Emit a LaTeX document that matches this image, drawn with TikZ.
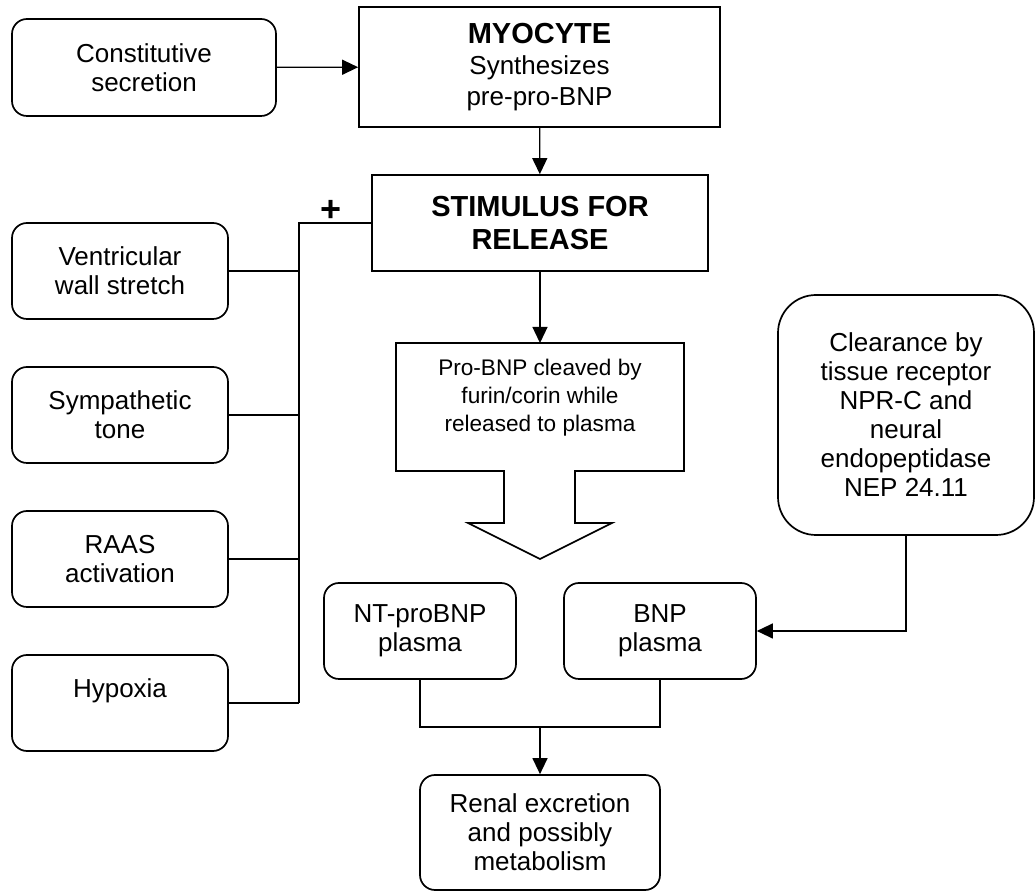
\documentclass[tikz,border=0pt]{standalone}
\usepackage{fontspec}
\setmainfont{Liberation Sans}
\usetikzlibrary{arrows.meta,positioning}
\tikzset{
  box/.style={draw, line width=0.85pt, align=center, inner sep=0pt,
    font=\fontsize{13}{14.5}\selectfont},
  rbox/.style={box, rounded corners=7.5pt},
  link/.style={line width=0.65pt},
  arr/.style={link, -{Triangle[length=8pt,width=7.5pt]}},
  bus/.style={line width=1.2pt},
}
\begin{document}
\begin{tikzpicture}[x=0.5pt,y=-0.5pt]
    \useasboundingbox (0,0) rectangle (1035,892);
    % top row
    \node[rbox, minimum width=132pt, minimum height=48.5pt] (const) at (144,67.5) {Constitutive\\secretion};
    \node[box, minimum width=180.5pt, minimum height=60pt, font=\fontsize{13}{15.5}\selectfont] (myo) at (539.5,67)
        {{\bfseries\fontsize{14.5}{15.5}\selectfont MYOCYTE}\\Synthesizes\\pre-pro-BNP};
    \node[box, minimum width=168pt, minimum height=48pt, font=\bfseries\fontsize{14.5}{16.5}\selectfont] (stim) at (540,223)
        {STIMULUS FOR\\RELEASE};
    % stimuli on the left
    \node[rbox, minimum width=108pt, minimum height=48pt] (vent) at (120,271) {Ventricular\\wall stretch};
    \node[rbox, minimum width=108pt, minimum height=48pt] (symp) at (120,415) {Sympathetic\\tone};
    \node[rbox, minimum width=108pt, minimum height=48pt] (raas) at (120,559) {RAAS\\activation};
    \node[rbox, minimum width=108pt, minimum height=48pt] (hypo) at (120,703) {Hypoxia\\~};
    \node[font=\bfseries\fontsize{18}{18}\selectfont, inner sep=0pt] (plus) at (331,211) {+};
    % cleavage block arrow
    \draw[line width=0.85pt] (396,343) -- (684,343) -- (684,471) -- (575,471) -- (575,523) -- (612,523)
        -- (540,559) -- (468,523) -- (504,523) -- (504,471) -- (396,471) -- cycle;
    \coordinate (cleavetop) at (540,343);
    \node[align=center, font=\fontsize{11.3}{14}\selectfont] (cleave) at (540,398)
        {Pro-BNP cleaved by\\furin/corin while\\released to plasma};
    % plasma and clearance
    \node[rbox, minimum width=96pt, minimum height=48pt] (nt) at (420,631) {NT-proBNP\\plasma};
    \node[rbox, minimum width=96pt, minimum height=48pt] (bnp) at (660,631) {BNP\\plasma};
    \node[box, rounded corners=19pt, minimum width=128pt, minimum height=120pt] (clear) at (906,415)
        {Clearance by\\tissue receptor\\NPR-C and\\neural\\endopeptidase\\NEP 24.11};
    \node[rbox, minimum width=120pt, minimum height=57.5pt] (renal) at (540,832.5)
        {Renal excretion\\and possibly\\metabolism};
    % connectors
    \draw[arr] (const) -- (myo);
    \draw[arr] (myo) -- (stim);
    \draw[arr] (stim) -- (cleavetop);
    \coordinate (bustop) at (299,223);
    \draw[bus] (hypo.east -| bustop) -- (bustop) -- (stim.west);
    \foreach \n in {vent,symp,raas,hypo}
        \draw[link] (\n.east) -- (\n.east -| bustop);
    \coordinate (join) at (540,727);
    \draw[link] (nt.south) -- (nt.south |- join) -- (bnp.south |- join) -- (bnp.south);
    \draw[arr] (join) -- (renal);
    \draw[arr] (clear.south) -- (clear.south |- bnp.east) -- (bnp.east);
\end{tikzpicture}
\end{document}
